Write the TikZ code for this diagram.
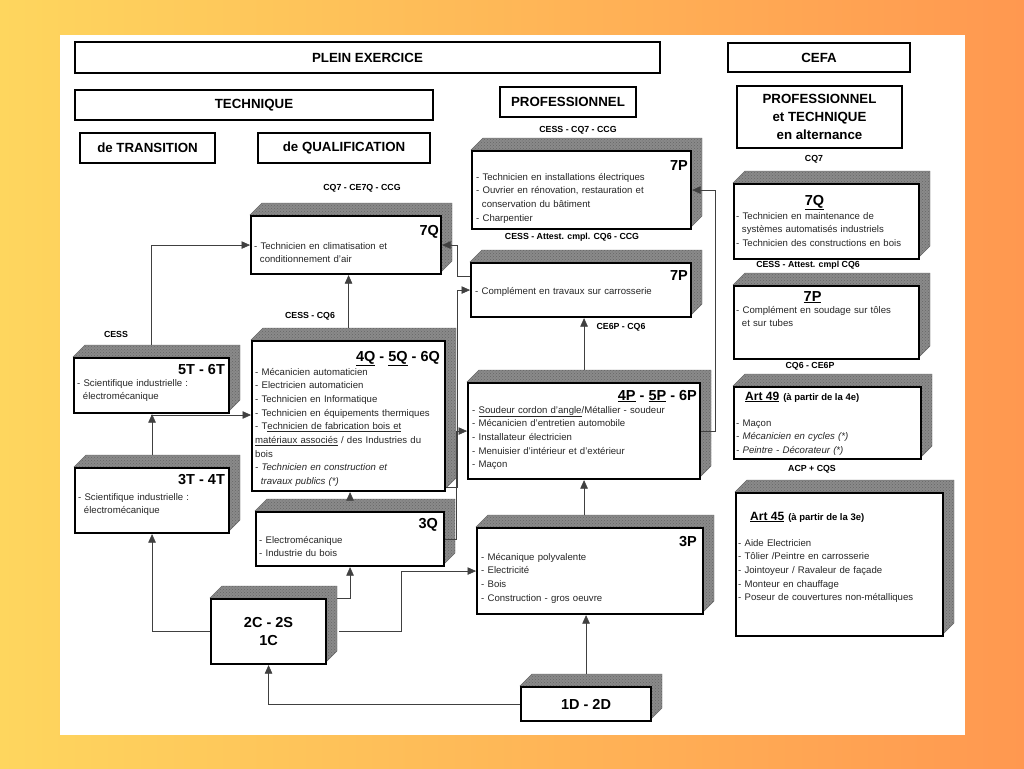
\documentclass[tikz,border=0pt]{standalone}
\usepackage{fontspec}
\setmainfont{Liberation Sans}
\usetikzlibrary{arrows.meta,calc,patterns}

\definecolor{bgleft}{RGB}{254,214,94}
\definecolor{bgright}{RGB}{255,152,80}
\definecolor{slabgrey}{RGB}{138,138,138}

\tikzset{
  slab/.style={draw, line width=2.1pt, fill=white, anchor=north west, inner sep=0pt, align=center},
  slabside/.style={fill=slabgrey, draw=black!60, line width=0.4pt,
    postaction={pattern=crosshatch dots, pattern color=black!60}},
  headbox/.style={draw, line width=2.1pt, inner sep=0pt, align=center,
    font=\bfseries\fontsize{13.3}{18}\selectfont},
  gradelabel/.style={inner sep=0pt, font=\bfseries\fontsize{8.8}{10}\selectfont},
  boxtitle/.style={anchor=base east, inner sep=0pt, font=\bfseries\fontsize{14.5}{16}\selectfont},
  boxitems/.style={anchor=base west, inner sep=0pt, text width=215pt, align=left,
    font=\fontsize{9.6}{13.7}\selectfont, text=black!85},
  flow/.style={-{Triangle[length=8.5pt,width=7.5pt]}, line width=0.6pt, draw=black!75},
}

% [style]{name}{left}{top}{width}{height}{text}
\newcommand\slab[7][]{%
  \path[slabside] (#3,#4) -- ++(12,-12) -- ++(#5,0) -- ++(0,#6) -- ++(-12,12) -- ++(0,-#6) -- cycle;
  \node[slab, minimum width=#5pt, minimum height=#6pt, #1] (#2) at (#3,#4) {#7};
}

\begin{document}
\begin{tikzpicture}[x=1pt, y=-1pt]
\useasboundingbox (0,0) rectangle (1024,768);
\shade[left color=bgleft, right color=bgright] (0,0) rectangle (1024,768);
\fill[white] (60,35) rectangle (965,735);

% headings
\node[headbox, minimum width=585pt, minimum height=31pt] (plein) at (367.5,57.5) {PLEIN EXERCICE};
\node[headbox, minimum width=182pt, minimum height=29pt] (cefa) at (819,57.5) {CEFA};
\node[headbox, minimum width=358pt, minimum height=30pt] (technique) at (254,105) {TECHNIQUE};
\node[headbox, minimum width=136pt, minimum height=30pt] (profhead) at (568,102) {PROFESSIONNEL};
\node[headbox, minimum width=165pt, minimum height=62pt] (alternance) at (819.5,117) {PROFESSIONNEL\\et TECHNIQUE\\en alternance};
\node[headbox, minimum width=135pt, minimum height=30pt] (transition) at (147.5,148) {de TRANSITION};
\node[headbox, minimum width=172pt, minimum height=30pt] (qualification) at (344,148) {de QUALIFICATION};

% boxes
\slab{qseven}{250}{215}{190}{58}{}
\slab{ptop}{471}{150}{219}{78}{}
\slab{pcarro}{470}{262}{220}{54}{}
\slab{qsix}{251}{340}{193}{150}{}
\slab{tsix}{73}{357}{155}{55}{}
\slab{tfour}{74}{467}{154}{65}{}
\slab{qthree}{255}{511}{188}{54}{}
\slab[font=\bfseries\fontsize{14.5}{18}\selectfont]{ctwo}{210}{598}{115}{65}{2C - 2S\\1C}
\slab{psix}{467}{382}{232}{96}{}
\slab{pthree}{476}{527}{226}{86}{}
\slab[font=\bfseries\fontsize{14.5}{18}\selectfont]{dtwelve}{520}{686}{130}{34}{1D - 2D}
\slab{fseven}{733}{183}{185}{75}{}
\slab{fsevenp}{733}{285}{185}{73}{}
\slab{fnine}{733}{386}{187}{72}{}
\slab{ffive}{735}{492}{207}{143}{}

% box contents
\node[boxtitle] (qseventitle) at ([xshift=-3pt,yshift=-20pt]qseven.north east) {7Q};
\node[boxitems] (qsevenlist) at ([xshift=4pt,yshift=-34pt]qseven.north west)
  {- Technicien en climatisation et\\\hspace*{.6em}conditionnement d'air};

\node[boxtitle] (ptoptitle) at ([xshift=-4pt,yshift=-20pt]ptop.north east) {7P};
\node[boxitems] (ptoplist) at ([xshift=5pt,yshift=-30pt]ptop.north west)
  {- Technicien en installations électriques\\- Ouvrier en rénovation, restauration et\\\hspace*{.6em}conservation du bâtiment\\- Charpentier};

\node[boxtitle] (pcarrotitle) at ([xshift=-4pt,yshift=-18pt]pcarro.north east) {7P};
\node[boxitems] (pcarrolist) at ([xshift=5pt,yshift=-32pt]pcarro.north west)
  {- Complément en travaux sur carrosserie};

\node[boxtitle] (qsixtitle) at ([xshift=-6pt,yshift=-21pt]qsix.north east) {\underline{4Q} - \underline{5Q} - 6Q};
\node[boxitems] (qsixlist) at ([xshift=4pt,yshift=-35pt]qsix.north west)
  {- Mécanicien automaticien\\- Electricien automaticien\\- Technicien en Informatique\\- Technicien en équipements thermiques\\- T\underline{echnicien de fabrication bois et}\\\underline{matériaux associés} / des Industries du\\bois\\\textit{- Technicien en construction et}\\\hspace*{.6em}\textit{travaux publics (*)}};

\node[boxtitle] (tsixtitle) at ([xshift=-5pt,yshift=-17pt]tsix.north east) {5T - 6T};
\node[boxitems] (tsixlist) at ([xshift=4pt,yshift=-29pt]tsix.north west)
  {- Scientifique industrielle :\\\hspace*{.6em}électromécanique};

\node[boxtitle] (tfourtitle) at ([xshift=-5pt,yshift=-17pt]tfour.north east) {3T - 4T};
\node[boxitems] (tfourlist) at ([xshift=4pt,yshift=-33pt]tfour.north west)
  {- Scientifique industrielle :\\\hspace*{.6em}électromécanique};

\node[boxtitle] (qthreetitle) at ([xshift=-7pt,yshift=-17pt]qthree.north east) {3Q};
\node[boxitems] (qthreelist) at ([xshift=4pt,yshift=-32pt]qthree.north west)
  {- Electromécanique\\- Industrie du bois};

\node[boxtitle] (psixtitle) at ([xshift=-4pt,yshift=-18pt]psix.north east) {\underline{4P} - \underline{5P} - 6P};
\node[boxitems] (psixlist) at ([xshift=5pt,yshift=-31pt]psix.north west)
  {- \underline{Soudeur cordon d'angle}/Métallier - soudeur\\- Mécanicien d'entretien automobile\\- Installateur électricien\\- Menuisier d'intérieur et d'extérieur\\- Maçon};

\node[boxtitle] (pthreetitle) at ([xshift=-7pt,yshift=-19pt]pthree.north east) {3P};
\node[boxitems] (pthreelist) at ([xshift=5pt,yshift=-33pt]pthree.north west)
  {- Mécanique polyvalente\\- Electricité\\- Bois\\- Construction - gros oeuvre};

\node[boxtitle, anchor=base] (fseventitle) at ([xshift=-12pt,yshift=-22pt]fseven.north) {\underline{7Q}};
\node[boxitems] (fsevenlist) at ([xshift=3pt,yshift=-36pt]fseven.north west)
  {- Technicien en maintenance de\\\hspace*{.6em}systèmes automatisés industriels\\- Technicien des constructions en bois};

\node[boxtitle, anchor=base] (fsevenptitle) at ([xshift=-14pt,yshift=-16pt]fsevenp.north) {\underline{7P}};
\node[boxitems] (fsevenplist) at ([xshift=3pt,yshift=-28pt]fsevenp.north west)
  {- Complément en soudage sur tôles\\\hspace*{.6em}et sur tubes};

\node[boxtitle, anchor=base west] (fninetitle) at ([xshift=12pt,yshift=-14pt]fnine.north west)
  {{\fontsize{12}{14}\selectfont\underline{Art 49}} {\fontsize{9.5}{12}\selectfont(à partir de la 4e)}};
\node[boxitems] (fninelist) at ([xshift=3pt,yshift=-40pt]fnine.north west)
  {- Maçon\\\textit{- Mécanicien en cycles (*)}\\\textit{- Peintre - Décorateur (*)}};

\node[boxtitle, anchor=base west] (ffivetitle) at ([xshift=15pt,yshift=-28pt]ffive.north west)
  {{\fontsize{12}{14}\selectfont\underline{Art 45}} {\fontsize{9.5}{12}\selectfont(à partir de la 3e)}};
\node[boxitems] (ffivelist) at ([xshift=3pt,yshift=-54pt]ffive.north west)
  {- Aide Electricien\\- Tôlier /Peintre en carrosserie\\- Jointoyeur / Ravaleur de façade\\- Monteur en chauffage\\- Poseur de couvertures non-métalliques};

% certificates
\node[gradelabel] (gptop) at (578,130) {CESS - CQ7 - CCG};
\node[gradelabel] (gqseven) at (362,188) {CQ7 - CE7Q - CCG};
\node[gradelabel] (gpcarro) at (572,237) {CESS - Attest. cmpl. CQ6 - CCG};
\node[gradelabel] (gqsix) at (310,316) {CESS - CQ6};
\node[gradelabel] (gtsix) at (116,334) {CESS};
\node[gradelabel] (gpsix) at (621,327) {CE6P - CQ6};
\node[gradelabel] (gfseven) at (814,159) {CQ7};
\node[gradelabel] (gfsevenp) at (808,265) {CESS - Attest. cmpl CQ6};
\node[gradelabel] (gfnine) at (810,366) {CQ6 - CE6P};
\node[gradelabel] (gffive) at (812,469) {ACP + CQS};

% connectors
\coordinate (tfork) at (151,415);
\draw[flow] ($(tsix.north)+(0,-12)$) |- (qseven.west);
\draw[flow] ($(tfour.north)+(0,-12)$) -- (tfour.north |- tsix.south);
\draw[flow] (tfork) -- (tfork -| qsix.west);
\draw[flow] ($(qsix.north)+(0,-12)$) -- (qsix.north |- qseven.south);
\draw[flow] ($(qthree.north)+(0,-12)$) -- (qthree.north |- qsix.south);
\draw[flow] (ctwo.west) -| (tfour.south);
\draw[flow] ($(ctwo.north east)+(10,0)$) -| (qthree.south);
\draw[flow] ($(ctwo.east)+(12,0)$) -| ($(ctwo.east)!0.5!(pthree.west)$) |- (pthree.west);
\draw[flow] (dtwelve.west) -| (ctwo.south);
\draw[flow] ($(dtwelve.north)+(0,-12)$) -- (dtwelve.north |- pthree.south);
\draw[flow] ($(pthree.north -| psix.south)+(0,-12)$) -- (psix.south);
\draw[flow] ($(psix.north)+(0,-12)$) -- (psix.north |- pcarro.south);
\draw[flow] (psix.east) -- ++(14,0) |- (ptop.east);
\draw[flow] ([yshift=14pt]pcarro.west) -- ++(-13,0) |- (qseven.east);
\draw[flow] ($(qsix.south east)+(0,-5)$) -- ++(11,0) |- (pcarro.west);
\draw[flow] (qthree.east) -- ++(11,0) |- (psix.west);

\end{tikzpicture}
\end{document}
